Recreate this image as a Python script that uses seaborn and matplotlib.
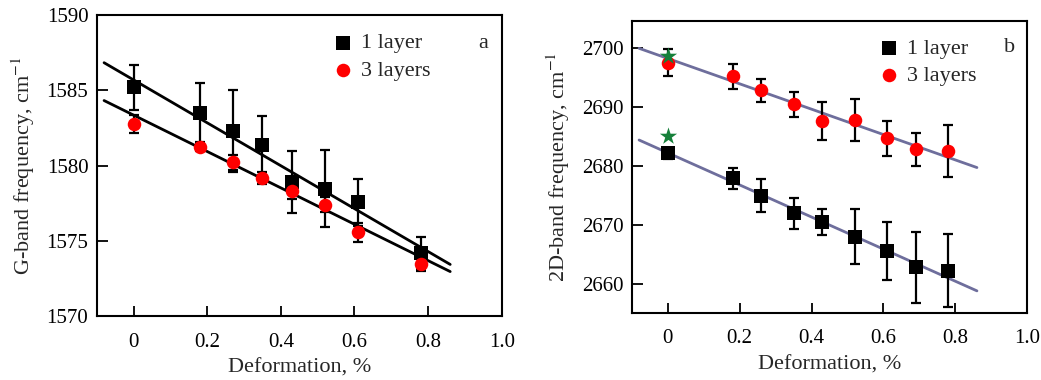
import numpy as np
import pandas as pd
import matplotlib
matplotlib.use("Agg")
import matplotlib.pyplot as plt
import seaborn as sns

# ---------------- data ----------------
# Panel a (G band)
a_x1 = [0.0, 0.18, 0.27, 0.35, 0.43, 0.52, 0.61, 0.78]
a_y1 = [1585.2, 1583.5, 1582.3, 1581.35, 1578.9, 1578.45, 1577.55, 1574.2]
a_e1 = [1.5, 2.0, 2.75, 1.95, 2.07, 2.55, 1.55, 1.06]
a_x3 = [0.0, 0.18, 0.27, 0.35, 0.43, 0.52, 0.61, 0.78]
a_y3 = [1582.75, 1581.25, 1580.2, 1579.2, 1578.3, 1577.4, 1575.55, 1573.45]
a_e3 = [0.6, 0.3, 0.5, 0.4, 0.5, 0.5, 0.6, 0.45]
a_fit1 = (1585.69, -14.26)   # intercept, slope
a_fit3 = (1583.35, -12.09)

# Panel b (2D band)
b_x1 = [0.0, 0.18, 0.26, 0.35, 0.43, 0.52, 0.61, 0.69, 0.78]
b_y1 = [2682.2, 2678.0, 2675.05, 2672.05, 2670.6, 2668.1, 2665.65, 2662.9, 2662.3]
b_e1 = [1.0, 1.75, 2.8, 2.6, 2.2, 4.7, 4.9, 6.0, 6.2]
b_x3 = [0.0, 0.18, 0.26, 0.35, 0.43, 0.52, 0.61, 0.69, 0.78]
b_y3 = [2697.6, 2695.3, 2692.9, 2690.5, 2687.7, 2687.85, 2684.75, 2682.9, 2682.65]
b_e3 = [2.3, 2.1, 2.0, 2.2, 3.3, 3.6, 3.0, 2.85, 4.4]
b_star_x = [0.0, 0.0]
b_star_y = [2698.7, 2685.1]
b_fit1 = (2682.3, -27.2)
b_fit3 = (2698.3, -21.5)

fit_range = [-0.08, 0.86]
x_ticks = [0, 0.2, 0.4, 0.6, 0.8, 1.0]
x_ticklabels = ["0", "0.2", "0.4", "0.6", "0.8", "1.0"]
a_yticks = [1570, 1575, 1580, 1585, 1590]
b_yticks = [2660, 2670, 2680, 2690, 2700]

# ---------------- style ----------------
sns.set_theme(style="white")
plt.rcParams["font.family"] = ["Liberation Serif", "DejaVu Serif"]
plt.rcParams["mathtext.fontset"] = "stix"

fig = plt.figure(figsize=(10.41, 3.80), dpi=100)
axA = fig.add_axes([0.0929, 0.1684, 0.482 - 0.0929, 0.9605 - 0.1684])
axB = fig.add_axes([0.607, 0.177, 0.9868 - 0.607, 0.9455 - 0.177])

TFS = 15
LFS = 16


def draw_panel(ax, x1, y1, e1, x3, y3, e3, fit1, fit3, fitcolor, letter, legx):
    fx = np.array(fit_range)
    for fit in (fit1, fit3):
        dfl = pd.DataFrame({"x": fx, "y": fit[0] + fit[1] * fx})
        sns.lineplot(data=dfl, x="x", y="y", ax=ax, color=fitcolor, lw=2.0, zorder=2)
    ax.errorbar(x1, y1, yerr=e1, fmt="none", ecolor="black", elinewidth=1.6,
                capsize=3.8, capthick=1.6, zorder=3)
    ax.errorbar(x3, y3, yerr=e3, fmt="none", ecolor="black", elinewidth=1.6,
                capsize=3.8, capthick=1.6, zorder=3)
    d1 = pd.DataFrame({"x": x1, "y": y1})
    d3 = pd.DataFrame({"x": x3, "y": y3})
    sns.scatterplot(data=d1, x="x", y="y", ax=ax, marker="s", s=90, color="black",
                    edgecolor="black", linewidth=0, zorder=4, label="1 layer")
    sns.scatterplot(data=d3, x="x", y="y", ax=ax, marker="o", s=95, color="#ff0000",
                    edgecolor="#ff0000", linewidth=0, zorder=4, label="3 layers")
    ax.set_xlim(-0.1, 1.0)
    ax.set_xticks(x_ticks)
    ax.set_xticklabels(x_ticklabels)
    ax.set_xlabel("Deformation, %", fontsize=LFS, labelpad=5)
    ax.tick_params(axis="both", which="both", direction="in", labelsize=TFS,
                   top=False, right=False, bottom=True, left=True, colors="black")
    ax.tick_params(axis="x", length=7, width=1.3, pad=12)
    ax.tick_params(axis="y", length=8, width=1.3, pad=6)
    for sp in ax.spines.values():
        sp.set_visible(True)
        sp.set_color("black")
        sp.set_linewidth(1.5)
    ax.text(0.955, 0.875, letter, transform=ax.transAxes, fontsize=LFS,
            ha="center", va="bottom")
    leg = ax.legend(loc="upper left", bbox_to_anchor=(legx, 0.985), frameon=False,
                    fontsize=LFS, handletextpad=0.25, labelspacing=0.3,
                    borderaxespad=0.2, handlelength=1.1)
    return leg


draw_panel(axA, a_x1, a_y1, a_e1, a_x3, a_y3, a_e3, a_fit1, a_fit3, "black", "a", 0.545)
axA.set_ylim(1570, 1590)
axA.set_yticks(a_yticks)
axA.set_ylabel("G-band frequency, cm$^{-1}$", fontsize=LFS, labelpad=7)

draw_panel(axB, b_x1, b_y1, b_e1, b_x3, b_y3, b_e3, b_fit1, b_fit3, "#6e6e9c", "b", 0.585)
sns.scatterplot(x=b_star_x, y=b_star_y, ax=axB, marker="*", s=170, color="#16803a",
                edgecolor="#16803a", linewidth=0, zorder=5, legend=False)
axB.set_ylim(2655.2, 2704.7)
axB.set_yticks(b_yticks)
axB.set_ylabel("2D-band frequency, cm$^{-1}$", fontsize=LFS, labelpad=7)

fig.savefig("out.png", dpi=100)
